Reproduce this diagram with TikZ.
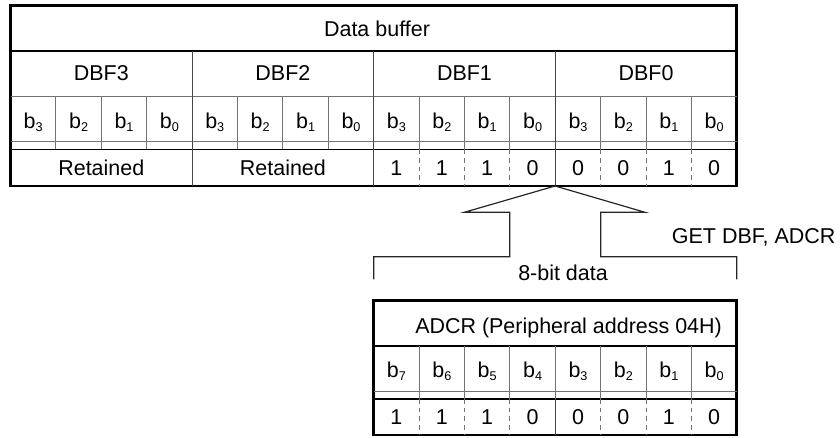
\documentclass[tikz,border=0pt]{standalone}
\usepackage{fontspec}
\setmainfont{Liberation Sans}
\usepackage{tikz}
\usetikzlibrary{positioning, calc}

\definecolor{gridgray}{gray}{0.45}
\newcommand{\bitsub}[1]{b\raisebox{-0.25ex}{\fontsize{9.5}{10}\selectfont #1}}

\begin{document}
\begin{tikzpicture}[
		x=0.75pt, y=-0.75pt,
		every node/.style={font=\fontsize{16.1}{19}\selectfont, inner sep=0pt},
		frame/.style={draw, line width=2.2pt},
		headline/.style={draw, line width=1.5pt},
		thinline/.style={draw=gridgray, line width=0.8pt},
		innerline/.style={draw=black, line width=0.8pt},
		dashline/.style={draw=gridgray, line width=0.8pt, dash pattern=on 3.5pt off 3pt},
		bracket/.style={draw=black!85, line width=0.9pt}
		]
		\useasboundingbox (0,0) rectangle (840,437);
		
		% Data buffer table
		\draw[frame] (10.5,5.8) rectangle (736.9,186);
		\draw[headline] (10.5,51) -- (736.9,51);
		\draw[thinline] (10.5,96.7) -- (736.9,96.7);
		\draw[thinline] (10.5,141.7) -- (736.9,141.7);
		\draw[innerline] (10.5,149.3) -- (736.9,149.3);
		\foreach \i in {4,8,12}
			\draw[innerline, draw=gridgray!60!black] ({10.5+45.4*\i},51) -- ({10.5+45.4*\i},186);
		\foreach \i in {1,2,3,5,6,7,9,10,11,13,14,15}
			\draw[thinline] ({10.5+45.4*\i},96.7) -- ({10.5+45.4*\i},149.3);
		\foreach \i in {9,10,11,13,14,15}
			\draw[dashline] ({10.5+45.4*\i},149.3) -- ({10.5+45.4*\i},186);
		
		\node[anchor=base] (dbuf) at (377,36.7) {Data buffer};
		\foreach \n [count=\k from 0] in {3,2,1,0}
			\node[anchor=base] (dbf\n) at ({10.5+45.4*(4*\k+2)},80) {DBF\n};
		\foreach \b [count=\k from 0] in {3,2,1,0,3,2,1,0,3,2,1,0,3,2,1,0}
			\node[anchor=base] (tb\k) at ({10.5+45.4*(\k+0.5)},128.3) {\bitsub{\b}};
		\node[anchor=base] (ret3) at ({10.5+45.4*2},175) {Retained};
		\node[anchor=base] (ret2) at ({10.5+45.4*6},175) {Retained};
		\foreach \v [count=\k from 8] in {1,1,1,0,0,0,1,0}
			\node[anchor=base] (tv\k) at ({10.5+45.4*(\k+0.5)},175) {\v};
		
		% Transfer arrow
		\coordinate (apex) at (555.1,186);
		\draw[bracket] (apex) -- (464.3,212.3) -- (509.7,212.3) -- (509.7,256.8) -- (373.7,256.8) -- (373.7,279.3);
		\draw[bracket] (apex) -- (645,212.3) -- (600.7,212.3) -- (600.7,256.8) -- (736.7,256.8) -- (736.7,279.3);
		\node[anchor=base west] (getcmd) at (671.7,243.3) {GET DBF, ADCR};
		\node[anchor=base west] (width) at (518,280.7) {8-bit data};
		
		% ADCR register
		\draw[frame] (373.7,300.7) rectangle (736.9,435);
		\draw[headline] (373.7,345.7) -- (736.9,345.7);
		\draw[thinline] (373.7,391.7) -- (736.9,391.7);
		\draw[innerline] (373.7,399) -- (736.9,399);
		\foreach \j in {1,...,7}
			\draw[thinline] ({373.7+45.4*\j},345.7) -- ({373.7+45.4*\j},399);
		\draw[innerline, draw=gridgray!60!black] ({373.7+45.4*4},399) -- ({373.7+45.4*4},435);
		\foreach \j in {1,2,3,5,6,7}
			\draw[dashline] ({373.7+45.4*\j},399) -- ({373.7+45.4*\j},435);
		
		\node[anchor=base west] (adcr) at (415,333.3) {ADCR (Peripheral address 04H)};
		\foreach \b [count=\k from 0] in {7,6,5,4,3,2,1,0}
			\node[anchor=base] (ab\k) at ({373.7+45.4*(\k+0.5)},377.3) {\bitsub{\b}};
		\foreach \v [count=\k from 0] in {1,1,1,0,0,0,1,0}
			\node[anchor=base] (av\k) at ({373.7+45.4*(\k+0.5)},424.7) {\v};
		
	\end{tikzpicture}
\end{document}
